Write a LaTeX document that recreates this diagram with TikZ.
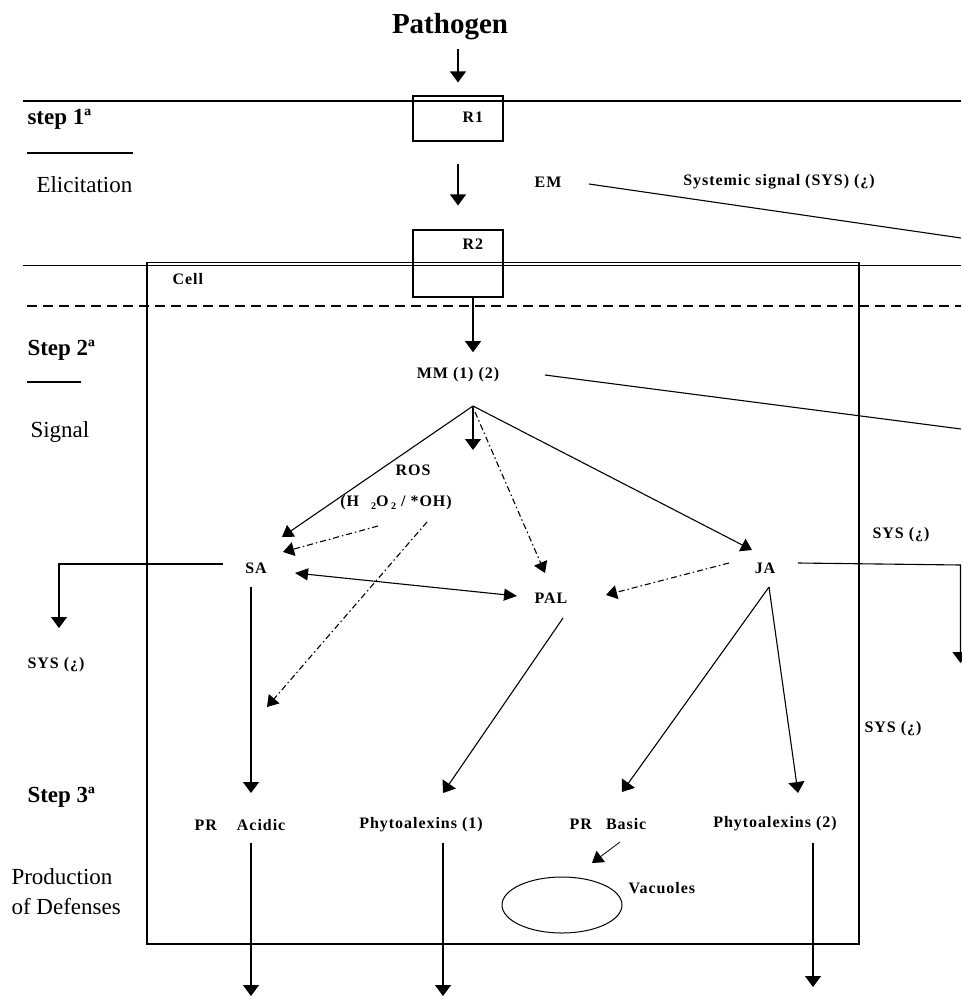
\documentclass[tikz,border=0pt]{standalone}
\usepackage{fontspec}
\setmainfont{Liberation Serif}
\newfontfamily\lblfont[LetterSpace=6]{Liberation Serif}
\usetikzlibrary{arrows.meta,shapes.geometric}
\newcommand\subidx[1]{\raisebox{-2.5pt}{\fontsize{10}{10}\selectfont #1}}
\begin{document}
\begin{tikzpicture}[x=1pt,y=-1pt,line width=1.1pt,
  lbl/.style={inner sep=0pt,font=\lblfont\bfseries\fontsize{16}{18}\selectfont},
  titlelbl/.style={inner sep=0pt,font=\bfseries\fontsize{29}{32}\selectfont},
  headlbl/.style={inner sep=0pt,anchor=west,font=\bfseries\fontsize{23}{26}\selectfont},
  sidelbl/.style={inner sep=0pt,anchor=west,align=left,font=\fontsize{23}{30}\selectfont},
  rbox/.style={draw,minimum width=90pt,inner sep=0pt},
  arr/.style={-{Triangle[length=11pt,width=16pt]}},
  arrs/.style={-{Triangle[length=11pt,width=14pt]}},
  dd/.style={dash pattern=on 6pt off 3pt on 1.5pt off 3pt},
  divider/.style={line width=1.1pt}]
\useasboundingbox (0,0) rectangle (961,998);

% ---------- step 1: elicitation ----------
\node[titlelbl] (pathogen) at (450,27) {Pathogen};
\node[rbox,minimum height=45pt] (R1) at (458,118.5) {};
\node[lbl] (R1t) at (473,117) {R1};
\node[rbox,minimum height=67pt] (R2) at (458,263.5) {};
\node[lbl] (R2t) at (473,244) {R2};
\node[lbl] (EM) at (548,182) {EM};
\node[lbl] (sys0) at (779,182) {Systemic signal (SYS) (¿)};
\node[headlbl] (st1) at (27,119) {step 1ª};
\node[sidelbl] (elic) at (36,185) {Elicitation};

\draw[divider] (23,101) -- (961,101);
\draw[divider] (27,153) -- (133,153);
\draw[divider] (23,265.5) -- (961,265.5);

\draw[arr] ([yshift=46pt]R1.north) -- ([yshift=13pt]R1.north);
\draw[arr] ([yshift=-22pt]R1.south) -- ([yshift=24pt]R2.north);
\draw ([shift={(41,2)}]EM.center) -- (961,238);

% ---------- cell ----------
\draw (147,262.5) rectangle (859,944);
\node[lbl,anchor=west] (cell) at (172,279) {Cell};
\draw[divider,dash pattern=on 10pt off 6pt] (27,306) -- (961,306);

% ---------- step 2: signal ----------
\node[headlbl] (st2) at (27,350) {Step 2ª};
\draw[divider] (27,382) -- (81,382);
\node[sidelbl] (sig) at (30,432) {Signal};

\node[lbl] (MM) at (458,375) {MM (1) (2)};
\coordinate (apex) at (473,406);
\node[lbl] (ROS) at (413,470) {ROS};
\node[lbl] (H2O2) at (396,503) {(H\hspace{12pt}\subidx{2}O\,\subidx{2} / *OH)};
\node[lbl] (SA) at (256,568) {SA};
\node[lbl] (PAL) at (551,598) {PAL};
\node[lbl] (JA) at (765,568) {JA};
\node[lbl,anchor=west] (sysL) at (27,665) {SYS (¿)};
\node[lbl,anchor=west] (sysR) at (872,535) {SYS (¿)};
\node[lbl,anchor=west] (sysR2) at (864,729) {SYS (¿)};

\draw[arr] ([xshift=15pt]R2.south) -- ([xshift=15pt,yshift=15pt]MM.north);
\draw ([shift={(87,0)}]MM.center) -- (961,429);

\draw[arrs] (apex) -- ([shift={(26,-31)}]SA.center);
\draw[arr] (apex) -- ([shift={(0,44)}]apex);
\draw[arrs,dd] ([shift={(2,6)}]apex) -- ([shift={(-6,-25)}]PAL.center);
\draw[arrs] (apex) -- ([shift={(-13,-18)}]JA.center);

\draw[arrs,dd] ([shift={(-18,23)}]H2O2.center) -- ([shift={(27,-16)}]SA.center);
\draw[arrs,dd] ([shift={(31,19)}]H2O2.center) -- ([shift={(-129,204)}]H2O2.center);

\draw[arr] ([shift={(-33,-4)}]SA.center) -| ([shift={(-197,60)}]SA.center);
\draw[{Triangle[length=13pt,width=12pt]}-{Triangle[length=13pt,width=12pt]}]
  ([shift={(39,5)}]SA.center) -- ([shift={(-34,-2)}]PAL.center);
\draw[arrs,dd] ([shift={(-36,-5)}]JA.center) -- ([shift={(55,-3)}]PAL.center);

\coordinate (edgeR) at (960.5,565);
\draw[arr] ([shift={(33,-5)}]JA.center) -- (edgeR) -- ([shift={(0,98)}]edgeR);

% ---------- step 3: production of defenses ----------
\node[headlbl] (st3) at (27,797) {Step 3ª};
\node[sidelbl] (prod) at (11,892) {Production\\of Defenses};
\node[lbl] (PRa) at (240,825) {PR\hspace{20pt}Acidic};
\node[lbl] (phy1) at (421,825) {Phytoalexins (1)};
\node[lbl] (PRb) at (608,824) {PR\hspace{14pt}Basic};
\node[lbl] (phy2) at (775,824) {Phytoalexins (2)};
\node[draw,ellipse,minimum width=120pt,minimum height=56pt,line width=1pt] (vac) at (562,905) {};
\node[lbl,anchor=west] (vacl) at (628,888) {Vacuoles};

\draw[arr] ([shift={(-5,19)}]SA.center) -- ([shift={(11,-32)}]PRa.center);
\draw[arr] ([shift={(12,20)}]PAL.center) -- ([shift={(22,-32)}]phy1.center);
\draw[arr] ([shift={(4,19)}]JA.center) -- ([shift={(14,-32)}]PRb.center);
\draw[arr] ([shift={(4,19)}]JA.center) -- ([shift={(23,-31)}]phy2.center);
\draw[arrs,line width=0.8pt] ([shift={(12,18)}]PRb.center) -- ([shift={(30,-42)}]vac.center);

\draw[arr] ([shift={(11,18)}]PRa.center) -- ([shift={(11,171)}]PRa.center);
\draw[arr] ([shift={(22,18)}]phy1.center) -- ([shift={(22,171)}]phy1.center);
\draw[arr] ([shift={(38,19)}]phy2.center) -- ([shift={(38,163)}]phy2.center);
\end{tikzpicture}
\end{document}
